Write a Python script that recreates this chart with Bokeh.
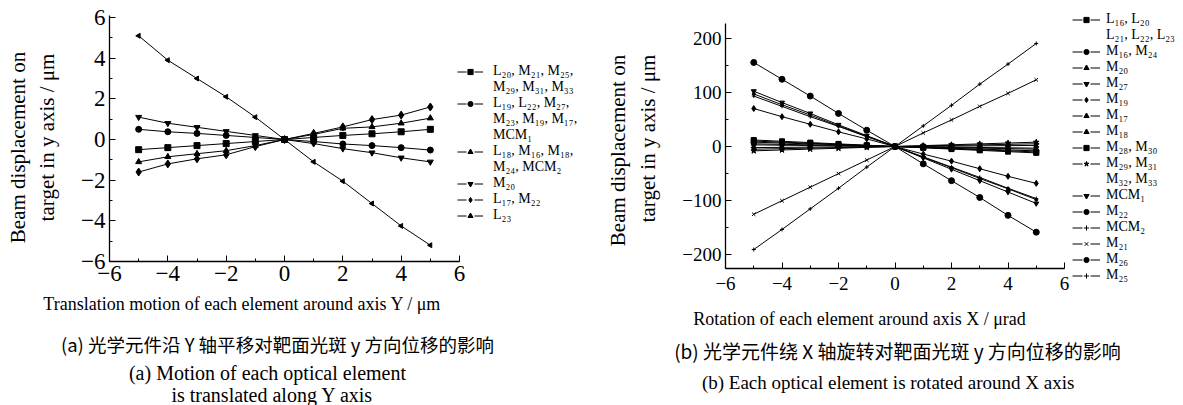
import math
from bokeh.plotting import figure
from bokeh.models import (Label, Legend, LegendItem, SingleIntervalTicker,
                          CustomJSTickFormatter, Range1d)
from bokeh.layouts import row
from bokeh.embed import file_html
from bokeh.resources import INLINE

# ---------------- data ----------------
x_steps = [-5, -4, -3, -2, -1, 0, 1, 2, 3, 4, 5]

# panel (a): translation along Y (um)
a_square = [-0.5, -0.4, -0.3, -0.2, -0.1, 0, 0.1, 0.2, 0.28, 0.38, 0.5]
a_circle = [0.5, 0.38, 0.3, 0.2, 0.1, 0, -0.1, -0.22, -0.3, -0.4, -0.52]
a_triangle = [-1.1, -0.85, -0.7, -0.55, -0.3, 0, 0.25, 0.55, 0.62, 0.8, 1.05]
a_inv_triangle = [1.1, 0.8, 0.6, 0.4, 0.2, 0, -0.2, -0.45, -0.65, -0.9, -1.1]
a_diamond = [-1.6, -1.2, -0.95, -0.75, -0.35, 0, 0.3, 0.62, 0.98, 1.2, 1.6]
a_left_tri = [5.1, 3.9, 3.0, 2.1, 1.1, 0, -1.1, -2.05, -3.15, -4.25, -5.2]

a_labels = [
    ["L₂₀, M₂₁, M₂₅,", "M₂₉, M₃₁, M₃₃"],
    ["L₁₉, L₂₂, M₂₇,", "M₂₃, M₁₉, M₁₇,", "MCM₁"],
    ["L₁₈, M₁₆, M₁₈,", "M₂₄, MCM₂"],
    ["M₂₀"],
    ["L₁₇, M₂₂"],
    ["L₂₃"],
]

# panel (b): rotation around X (urad)
b_L16 = [12, 9.6, 7.2, 4.8, 2.4, 0, -2.4, -4.8, -7.1, -9.5, -11.8]
b_M16 = [8, 6.4, 4.8, 3.2, 1.6, 0, -1.6, -3.2, -4.8, -6.4, -8]
b_M20 = [5, 4, 3, 2, 1, 0, -1, -2, -3, -4, -5]
b_M27 = [3, 2.4, 1.8, 1.2, 0.6, 0, -0.6, -1.2, -1.8, -2.4, -3]
b_M19 = [70, 55, 41, 27, 14, 0, -14, -27, -41, -55, -68]
b_M17 = [-2, -1.6, -1.2, -0.8, -0.4, 0, 0.4, 0.8, 1.2, 1.6, 2]
b_M18 = [-5, -4, -3, -2, -1, 0, 1, 2, 3, 4, 5]
b_M28 = [10, 8, 6, 4, 2, 0, -2, -4, -6, -8, -10]
b_M29 = [-8, -6.4, -4.8, -3.2, -1.6, 0, 1.6, 3.2, 4.8, 6.4, 8]
b_MCM1 = [102, 81, 61, 40, 20, 0, -21, -42, -63, -84, -105]
b_M22 = [97, 77, 58, 38, 19, 0, -20, -39, -59, -78, -98]
b_MCM2 = [93, 74, 55, 37, 18, 0, -19, -38, -57, -77, -96]
b_M21 = [-125, -100, -75, -50, -25, 0, 25, 49, 74, 98, 123]
b_M26 = [155, 124, 93, 61, 30, 0, -32, -63, -94, -127, -158]
b_M25 = [-190, -153, -115, -77, -38, 0, 38, 76, 115, 152, 190]

b_labels = [
    ["L₁₆, L₂₀", "L₂₁, L₂₂, L₂₃"],
    ["M₁₆, M₂₄"], ["M₂₀"], ["M₂₇"], ["M₁₉"], ["M₁₇"], ["M₁₈"],
    ["M₂₈, M₃₀"], ["M₂₉, M₃₁", "M₃₂, M₃₃"], ["MCM₁"], ["M₂₂"],
    ["MCM₂"], ["M₂₁"], ["M₂₆"], ["M₂₅"],
]

SERIF = "'Liberation Serif'"
CJK = "'Noto Sans CJK SC'"
H = 405  # canvas height
NAN = float("nan")


def span_range(v0, v1, px0, px1, edge0, edge1):
    """Range whose ends sit at the canvas edges, given the pixels of two values."""
    per_px = (v1 - v0) / (px1 - px0)
    return Range1d(v0 + (edge0 - px0) * per_px, v0 + (edge1 - px0) * per_px)


def make_panel(width, xr, yr, y_lim, y_interval, tick_font, x_standoff, y_standoff):
    p = figure(width=width, height=H, x_range=xr, y_range=yr, min_border=0,
               output_backend="svg", toolbar_location=None, tools="")
    p.outline_line_color = None
    p.grid.visible = False
    p.background_fill_color = "white"
    p.border_fill_color = "white"
    p.xaxis.fixed_location = y_lim[0]
    p.yaxis.fixed_location = -6
    p.xaxis.bounds = (-6, 6)
    p.yaxis.bounds = y_lim
    p.xaxis.ticker = SingleIntervalTicker(interval=2, num_minor_ticks=2)
    p.yaxis.ticker = SingleIntervalTicker(interval=y_interval, num_minor_ticks=2)
    fmt = "return tick < 0 ? '\\u2212' + Math.abs(tick) : tick.toString();"
    for ax, so in ((p.xaxis, x_standoff), (p.yaxis, y_standoff)):
        ax.formatter = CustomJSTickFormatter(code=fmt)
        ax.axis_line_color = "black"
        ax.axis_line_width = 1.3
        ax.major_tick_line_color = "black"
        ax.minor_tick_line_color = "black"
        ax.major_tick_in = 6
        ax.major_tick_out = 0
        ax.minor_tick_in = 3
        ax.minor_tick_out = 0
        ax.major_label_text_font = SERIF
        ax.major_label_text_font_size = tick_font
        ax.major_label_text_color = "black"
        ax.major_label_standoff = so
    return p


def add_text(p, x, y, txt, size, font=SERIF, angle=0.0):
    p.add_layout(Label(x=x, y=y, x_units="screen", y_units="screen", text=txt,
                       text_font=font, text_font_size=size, text_color="black",
                       text_align="center", text_baseline="middle", angle=angle))


def series(p, ys, marker, size, angle=0.0):
    p.line(x_steps, ys, line_color="black", line_width=1)
    return p.scatter(x_steps, ys, marker=marker, size=size, color="black", angle=angle)


def build_legend(p, markers, labels, glyph_w, dash, standoff, vx, vy):
    items = []
    blank = p.scatter(x=[], y=[], marker="circle", size=1, fill_alpha=0, line_alpha=0)
    for sc, labs in zip(markers, labels):
        # legend-only dashed stroke (no visible data)
        dl = p.line(x=[NAN, NAN], y=[NAN, NAN], line_color="black", line_width=1,
                    line_dash=dash)
        items.append(LegendItem(label=labs[0], renderers=[dl, sc]))
        for extra in labs[1:]:
            items.append(LegendItem(label=extra, renderers=[blank]))
    lg = Legend(items=items, location=(vx, vy), glyph_width=glyph_w, glyph_height=13,
                label_height=16, label_standoff=standoff, padding=0, spacing=0, margin=0,
                border_line_color=None, background_fill_alpha=0,
                label_text_font=SERIF, label_text_font_size="14px",
                label_text_color="black")
    p.add_layout(lg)


# ---------------- panel (a) ----------------
# canvas pixels: x=-6 at 109, x=6 at 459 ; y=6 at 17, y=-6 at 261
xa = span_range(-6, 6, 109, 459, 0, 605)
ya = span_range(-6, 6, H - 261, H - 17, 0, H)
pa = make_panel(605, xa, ya, (-6, 6.1), 2, "23px", 4, 4)

a_markers = [
    series(pa, a_square, "square", 6),
    series(pa, a_circle, "circle", 6),
    series(pa, a_triangle, "triangle", 6),
    series(pa, a_inv_triangle, "inverted_triangle", 6),
    series(pa, a_diamond, "diamond", 8),
    series(pa, a_left_tri, "triangle", 5, math.pi / 2),
]
build_legend(pa, a_markers, a_labels, 26, "9 8", 10, 457, 182)

add_text(pa, 17, 258, "Beam displacement on", "21px", angle=math.pi / 2)
add_text(pa, 46, 268, "target in y axis / μm", "21px", angle=math.pi / 2)
add_text(pa, 242, 102, "Translation motion of each element around axis Y / μm", "18px")
add_text(pa, 277, 62, "(a) 光学元件沿 Y 轴平移对靶面光斑 y 方向位移的影响", "18.5px", font=CJK)
add_text(pa, 267, 33, "(a) Motion of each optical element", "20px")
add_text(pa, 272, 11, "is translated along Y axis", "20px")

# ---------------- panel (b) ----------------
# canvas pixels (from its left 605): x=-6 at 120, x=6 at 459 ; y=225 at 24, y=-225 at 268
xb = span_range(-6, 6, 120, 459, 0, 578)
yb = span_range(-225, 225, H - 268, H - 24, 0, H)
pb = make_panel(578, xb, yb, (-225, 227), 100, "19px", 8, 4)

b_specs = (
    (b_L16, "square", 5, 0.0), (b_M16, "circle", 5, 0.0), (b_M20, "triangle", 5, 0.0),
    (b_M27, "inverted_triangle", 5, 0.0), (b_M19, "diamond", 6, 0.0),
    (b_M17, "triangle", 5, math.pi / 2), (b_M18, "triangle", 5, -math.pi / 2),
    (b_M28, "square", 5, 0.0), (b_M29, "star", 6, 0.0), (b_MCM1, "inverted_triangle", 5, 0.0),
    (b_M22, "circle", 3, 0.0), (b_MCM2, "cross", 4, 0.0), (b_M21, "x", 5, 0.0),
    (b_M26, "circle", 6, 0.0), (b_M25, "cross", 4, 0.0),
)
b_markers = [series(pb, ys, mk, sz, ang) for ys, mk, sz, ang in b_specs]
build_legend(pb, b_markers, b_labels, 28, "10 8", 6, 467, 122)

add_text(pb, 12, 255, "Beam displacement on", "21px", angle=math.pi / 2)
add_text(pb, 42, 267, "target in y axis / μm", "21px", angle=math.pi / 2)
add_text(pb, 254, 87, "Rotation of each element around axis X / μrad", "18px")
add_text(pb, 292, 55, "(b) 光学元件绕 X 轴旋转对靶面光斑 y 方向位移的影响", "19px", font=CJK)
add_text(pb, 285, 23, "(b) Each optical element  is rotated around X axis", "19px")

layout = row(pa, pb)
open("out.html", "w").write(file_html(layout, INLINE))
